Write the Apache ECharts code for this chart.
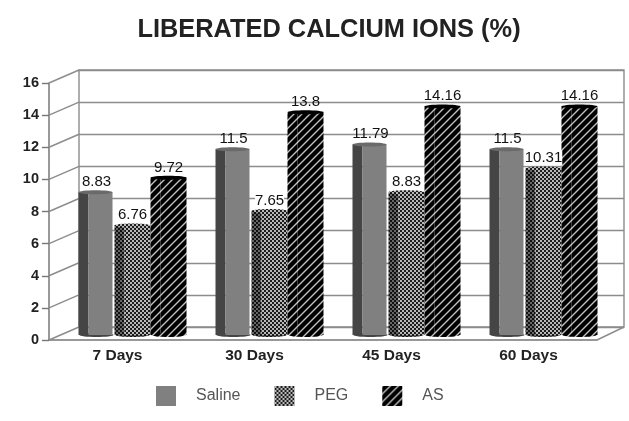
<!DOCTYPE html>
<html>
<head>
<meta charset="utf-8">
<title>Liberated calcium ions</title>
<script src="https://cdn.jsdelivr.net/npm/echarts@6/dist/echarts.min.js"></script>
<style>
html,body{margin:0;padding:0;background:#fff;}
#chart{width:629px;height:421px;filter:blur(0.6px);}
</style>
</head>
<body>
<div id="chart"></div>
<script>
var categories = ['7 Days', '30 Days', '45 Days', '60 Days'];
var saline = [8.83, 11.5, 11.79, 11.5];
var peg = [6.76, 7.65, 8.83, 10.31];
var as_ = [9.72, 13.8, 14.16, 14.16];
var yTicks = [0, 2, 4, 6, 8, 10, 12, 14, 16];

// 3d look: how far the back wall sits behind the front axes, in px
var depthX = 30, depthY = 13;
var barW = 36, sideW = 10, barLift = 6, groupShift = 15;

function dotPattern(dark) {
	var c = document.createElement('canvas');
	c.width = 4; c.height = 4;
	var g = c.getContext('2d');
	g.fillStyle = dark ? '#111' : '#1c1c1c';
	g.fillRect(0, 0, 4, 4);
	g.fillStyle = dark ? '#666' : '#b8b8b8';
	g.fillRect(0, 0, 2, 2);
	g.fillRect(2, 2, 2, 2);
	return {image: c, repeat: 'repeat'};
}
function stripePattern() {
	var c = document.createElement('canvas');
	c.width = 8; c.height = 8;
	var g = c.getContext('2d');
	g.fillStyle = '#000';
	g.fillRect(0, 0, 8, 8);
	g.strokeStyle = '#c0c0c0';
	g.lineWidth = 1.4;
	g.beginPath();
	g.moveTo(-2, 2); g.lineTo(2, -2);
	g.moveTo(-2, 10); g.lineTo(10, -2);
	g.moveTo(6, 10); g.lineTo(10, 6);
	g.stroke();
	return {image: c, repeat: 'repeat'};
}

var looks = [
	{front: '#808080', side: '#454545', top: '#6a6a6a', legend: '#808080'},
	{front: dotPattern(false), side: dotPattern(true), top: dotPattern(false), legend: dotPattern(false)},
	{front: stripePattern(), side: stripePattern(), top: '#000', legend: stripePattern()}
];

function barItem(s) {
	return function (params, api) {
		var i = api.value(0), v = api.value(1);
		var topPt = api.coord([i, v]);
		var basePt = api.coord([i, 0]);
		var x0 = topPt[0] + groupShift + (s - 1) * barW - barW / 2;
		var yTop = topPt[1] - barLift;
		var yBase = basePt[1] - barLift + 1;
		var look = looks[s];
		var kids = [
			{type: 'ellipse', shape: {cx: x0 + barW / 2, cy: yBase, rx: barW / 2 - 1, ry: 2}, style: {fill: look.side}},
			{type: 'rect', shape: {x: x0, y: yTop, width: sideW, height: yBase - yTop}, style: {fill: look.side}},
			{type: 'rect', shape: {x: x0 + sideW, y: yTop, width: barW - sideW - (s == 0 ? 2 : 0), height: yBase - yTop}, style: {fill: look.front}},
			{type: 'ellipse', shape: {cx: x0 + barW / 2 - (s == 0 ? 1 : 0), cy: yTop, rx: barW / 2 - (s == 0 ? 1 : 0), ry: 2}, style: {fill: look.top}},
			{type: 'text', z2: 20, style: {
				text: String(v), x: x0 + barW / 2, y: yTop - 10.5, align: 'center', verticalAlign: 'middle',
				font: '15px "Liberation Sans"', fill: '#111',
				backgroundColor: s == 1 ? '#fff' : 'transparent'
			}}
		];
		return {type: 'group', children: kids};
	};
}

function wallItem(params, api) {
	var r = params.coordSys;
	var y = api.coord([0, api.value(0)])[1];
	return {type: 'line', shape: {x1: r.x, y1: y, x2: r.x + depthX, y2: y - depthY},
		style: {stroke: '#8c8c8c', lineWidth: 1.4}};
}
function floorItem(params, api) {
	var r = params.coordSys;
	var y = r.y + r.height;
	return {type: 'line', shape: {x1: r.x + r.width, y1: y, x2: r.x + r.width + depthX - 3, y2: y - depthY},
		style: {stroke: '#8c8c8c', lineWidth: 1.4}};
}

var seriesList = [
	{name: 'Saline', data: saline},
	{name: 'PEG', data: peg},
	{name: 'AS', data: as_}
].map(function (d, s) {
	return {
		name: d.name, type: 'custom', xAxisIndex: 0, yAxisIndex: 0, z: 5,
		itemStyle: {color: looks[s].legend},
		renderItem: barItem(s),
		encode: {x: 0, y: 1},
		data: d.data.map(function (v, i) { return [i, v]; })
	};
});
seriesList.push({
	type: 'custom', xAxisIndex: 0, yAxisIndex: 0, z: 1, silent: true,
	renderItem: wallItem, encode: {y: 0}, data: yTicks.map(function (t) { return [t]; })
});
seriesList.push({
	type: 'custom', xAxisIndex: 0, yAxisIndex: 0, z: 1, silent: true,
	renderItem: floorItem, data: [[0]]
});

var myChart = echarts.init(document.getElementById('chart'));
var option = {
	animation: false,
	backgroundColor: '#fff',
	title: {
		text: 'LIBERATED CALCIUM IONS (%)', left: 324, top: 12, textAlign: 'center',
		textStyle: {fontFamily: 'Liberation Sans', fontSize: 25.4, fontWeight: 'bold', color: '#222'}
	},
	legend: {
		left: 151, top: 381, itemWidth: 20, itemHeight: 20, itemGap: 34, icon: 'rect',
		data: ['Saline', 'PEG', 'AS'],
		textStyle: {fontFamily: 'Liberation Sans', fontSize: 16, color: '#555', padding: [0, 0, 0, 15]}
	},
	grid: [
		{left: 49, top: 83, width: 548, height: 257},
		{left: 79, top: 70, width: 545, height: 257, show: true, borderColor: '#8c8c8c', borderWidth: 1.4, z: 0}
	],
	xAxis: [
		{
			type: 'category', gridIndex: 0, data: categories,
			axisTick: {show: false},
			axisLine: {lineStyle: {color: '#777', width: 1.5}},
			axisLabel: {fontFamily: 'Liberation Sans', fontSize: 15.5, fontWeight: 'bold', color: '#222', margin: 8}
		},
		{type: 'category', gridIndex: 1, data: categories, show: false}
	],
	yAxis: [
		{
			type: 'value', gridIndex: 0, min: 0, max: 16, interval: 2,
			axisLine: {show: true, lineStyle: {color: '#777', width: 1.5}},
			axisTick: {show: true, length: 7, lineStyle: {color: '#777', width: 1.4}},
			splitLine: {show: false},
			axisLabel: {fontFamily: 'Liberation Sans', fontSize: 14.5, fontWeight: 'bold', color: '#222', margin: 10}
		},
		{
			type: 'value', gridIndex: 1, min: 0, max: 16, interval: 2,
			axisLine: {show: false}, axisTick: {show: false}, axisLabel: {show: false},
			splitLine: {show: true, lineStyle: {color: '#8c8c8c', width: 1.4}}
		}
	],
	series: seriesList
};
myChart.setOption(option);
window.onresize = myChart.resize;
</script>
</body>
</html>
